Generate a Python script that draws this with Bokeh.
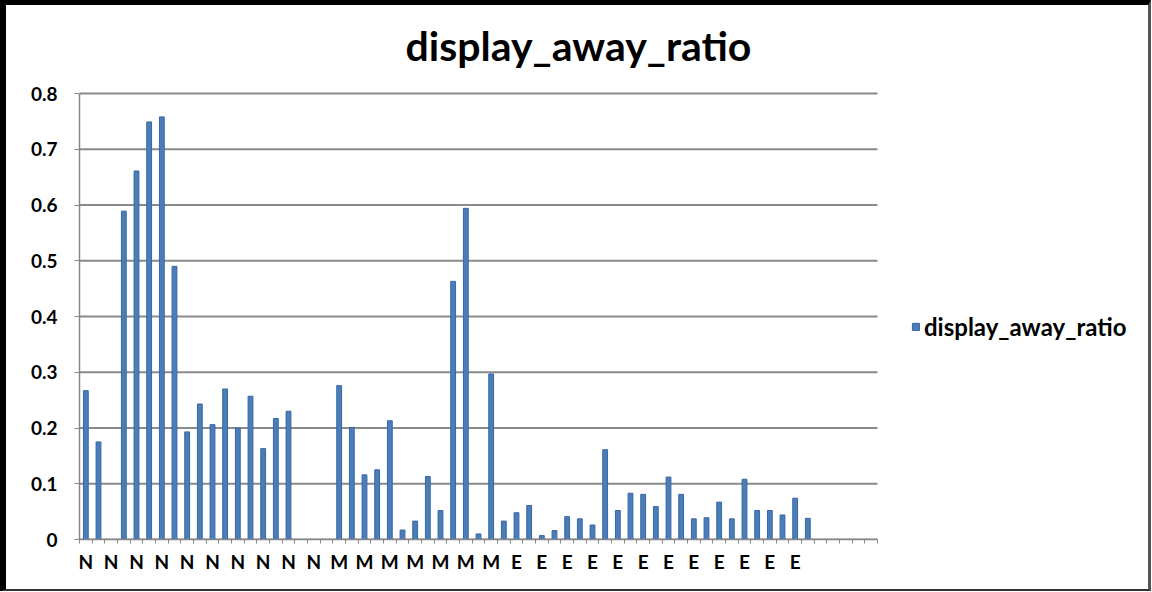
import numpy as np
from bokeh.plotting import figure
from bokeh.models import ColumnDataSource, FixedTicker, Legend, LegendItem, Label, Range1d
from bokeh.embed import file_html
from bokeh.resources import INLINE

nan = float("nan")

# category labels (one per slot; last slots are empty)
categories = ["N"] * 20 + ["M"] * 14 + ["E"] * 24 + [""] * 5

# series values (NaN = no bar)
values = [0.267, 0.175, nan, 0.589, 0.661, 0.749, 0.758, 0.490, 0.193, 0.243,
          0.206, 0.270, 0.200, 0.257, 0.163, 0.217, 0.230, nan, nan, nan,
          0.276, 0.201, 0.116, 0.125, 0.213, 0.017, 0.033, 0.113, 0.052, 0.463,
          0.594, 0.010, 0.297, 0.033, 0.048, 0.061, 0.007, 0.016, 0.041, 0.037,
          0.026, 0.161, 0.052, 0.083, 0.081, 0.059, 0.112, 0.081, 0.037, 0.039,
          0.067, 0.037, 0.108, 0.052, 0.052, 0.044, 0.074, 0.038, nan, nan,
          nan, nan, nan]

y_ticks = [0.0, 0.1, 0.2, 0.3, 0.4, 0.5, 0.6, 0.7, 0.8]
y_tick_labels = ["0", "0.1", "0.2", "0.3", "0.4", "0.5", "0.6", "0.7", "0.8"]

series_name = "display_away_ratio"
title_text = "display_away_ratio"

FONT = "Lato"

# layout (pixels)
W, H = 1151, 591
BL, BT, BR, BB = 6, 5, 3, 2          # chart border widths (CSS)
LEFT, RIGHT = 73, 4
PLOT_TOP_PAD = 88                    # space above the 0.8 gridline (holds title)
PLOT_H = 446                         # height of the value area 0 .. 0.8
BOTTOM = H - PLOT_TOP_PAD - PLOT_H
PLOT_W = 798                         # width of the category area
frame_w = W - LEFT - RIGHT

n = len(categories)
idx = list(range(n))
cat_px = PLOT_W / n
x_start = -0.5
x_end_data = n - 0.5
x_end_view = x_start + frame_w / cat_px   # frame extends right to hold the legend
y_max = y_ticks[-1]
val_px = PLOT_H / y_max
y_end_view = y_max + PLOT_TOP_PAD / val_px  # frame extends up to hold the title

source = ColumnDataSource(dict(x=idx, top=np.array(values, dtype=float)))

p = figure(width=W, height=H,
           x_range=Range1d(x_start, x_end_view), y_range=Range1d(0, y_end_view),
           output_backend="svg", toolbar_location=None,
           min_border_left=LEFT, min_border_right=RIGHT,
           min_border_top=0, min_border_bottom=BOTTOM)
p.title.visible = False
p.styles = {"border-left": f"{BL}px solid #000000",
            "border-top": f"{BT}px solid #000000",
            "border-right": f"{BR}px solid #555555",
            "border-bottom": f"{BB}px solid #333333"}
p.outline_line_color = None
p.background_fill_color = "white"
p.border_fill_color = "white"
p.xgrid.grid_line_color = None
p.ygrid.grid_line_color = None

# horizontal gridlines limited to the category area
p.segment(x0=[x_start] * len(y_ticks), x1=[x_end_data] * len(y_ticks),
          y0=y_ticks, y1=y_ticks, line_color="#8a8a8a", line_width=1.8)

r = p.vbar(x="x", top="top", width=0.38, bottom=0, source=source,
           fill_color="#4a7ebb", line_color="#3a65a0", line_width=1)

# Title, centred on the whole chart, above the plot area
title_cx = x_start + (578 - BL - LEFT) / cat_px
title_base = y_max + 48 / val_px
p.add_layout(Label(x=title_cx, y=title_base, text=title_text,
                   text_align="center", text_baseline="alphabetic",
                   text_font=FONT, text_font_size="41px", text_font_style="bold",
                   text_color="#000000"))

# Y axis
yax = p.yaxis[0]
yax.ticker = FixedTicker(ticks=y_ticks)
yax.bounds = (0, y_max)
yax.major_label_overrides = {t: l for t, l in zip(y_ticks, y_tick_labels)}
yax.major_label_text_font = FONT
yax.major_label_text_font_style = "bold"
yax.major_label_text_font_size = "19px"
yax.major_label_text_color = "#000000"
yax.axis_line_color = "#868686"
yax.axis_line_width = 1.5
yax.major_tick_line_color = "#868686"
yax.major_tick_out = 5
yax.major_tick_in = 0
yax.minor_tick_line_color = None
yax.major_label_standoff = 17

# X axis: labels at every second category, small ticks at category boundaries
xax = p.xaxis[0]
label_pos = idx[::2]
xax.ticker = FixedTicker(ticks=label_pos,
                         minor_ticks=[i - 0.5 for i in range(n + 1)])
xax.bounds = (x_start, x_end_data)
xax.major_label_overrides = {i: categories[i] for i in label_pos}
xax.major_label_text_font = FONT
xax.major_label_text_font_style = "bold"
xax.major_label_text_font_size = "19px"
xax.major_label_text_color = "#000000"
xax.axis_line_color = "#868686"
xax.axis_line_width = 1.5
xax.major_tick_line_color = None
xax.major_tick_out = 0
xax.major_tick_in = 0
xax.minor_tick_line_color = "#868686"
xax.minor_tick_out = 4
xax.minor_tick_in = 0
xax.major_label_standoff = 6

legend = Legend(items=[LegendItem(label=series_name, renderers=[r])],
                location=(832, 198), orientation="vertical",
                label_text_font=FONT, label_text_font_style="bold",
                label_text_font_size="24px", label_text_color="#000000",
                glyph_width=9, glyph_height=9, label_standoff=4,
                padding=0, margin=0, spacing=0,
                border_line_color=None, background_fill_alpha=0)
p.add_layout(legend, "center")

open("out.html", "w").write(file_html(p, INLINE))
